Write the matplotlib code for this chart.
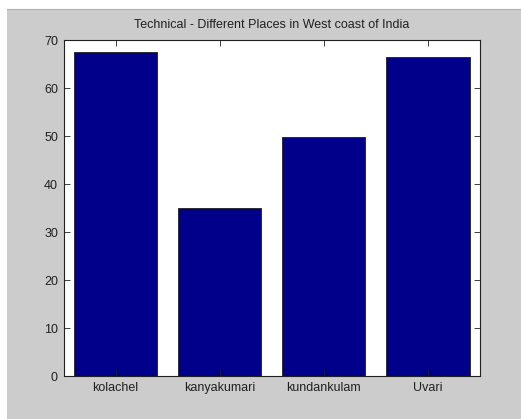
import matplotlib
matplotlib.use("Agg")
import matplotlib.pyplot as plt
from matplotlib.patches import Rectangle

places = ["kolachel", "kanyakumari", "kundankulam", "Uvari"]
values = [67.7, 35.0, 49.8, 66.5]
yticks = [0, 10, 20, 30, 40, 50, 60, 70]

plt.rcParams["font.family"] = ["Liberation Sans", "DejaVu Sans"]

W, H = 521, 419
fig = plt.figure(figsize=(W / 100, H / 100), dpi=100)
fig.patch.set_facecolor("#cccccc")

# window frame strips around the figure area
fig.add_artist(Rectangle((0, 1 - 9 / H), 1, 9 / H, transform=fig.transFigure,
                         facecolor="white", edgecolor="none", zorder=0))
fig.add_artist(Rectangle((0, 0), 7 / W, 1, transform=fig.transFigure,
                         facecolor="white", edgecolor="none", zorder=0))
fig.add_artist(plt.Line2D([7 / W, 1], [1 - 9.5 / H, 1 - 9.5 / H],
                          transform=fig.transFigure, color="#b0b0b0", lw=0.8))

ax = fig.add_axes([63.5 / W, 1 - 376 / H, (480 - 63.5) / W, (376 - 40.5) / H])
ax.set_facecolor("white")

x = list(range(1, len(places) + 1))
ax.bar(x, values, width=0.8, color="#00008b", edgecolor="#202020", linewidth=0.6)

ax.set_xlim(0.5, 4.5)
ax.set_ylim(0, 70)
ax.set_yticks(yticks)
ax.set_xticks(x)
ax.set_xticklabels(places)
ax.tick_params(direction="in", length=4, width=0.6, top=True, right=True,
               labelsize=9, colors="#202020", pad=4)
for s in ax.spines.values():
    s.set_linewidth(0.8)
    s.set_color("#202020")

ax.set_title("Technical - Different Places in West coast of India",
             fontsize=9, color="#202020", pad=9)

fig.savefig("out.png", dpi=100, facecolor=fig.get_facecolor())
